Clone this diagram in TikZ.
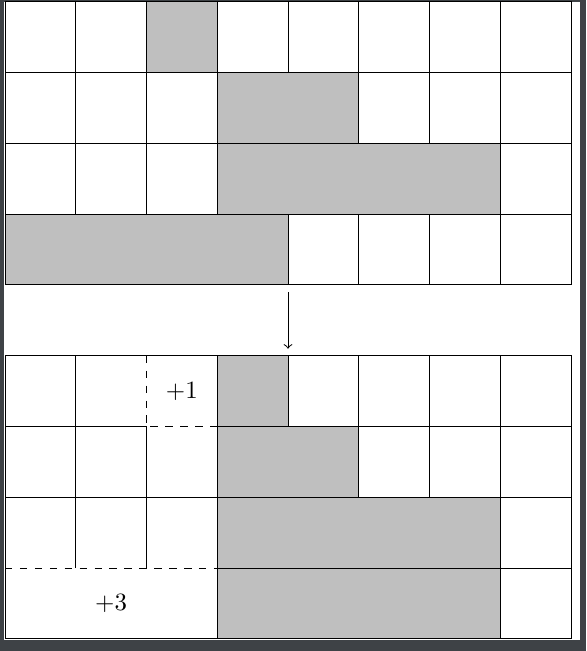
\documentclass[tikz,border=0pt]{standalone}
\definecolor{frame}{RGB}{62,66,70}
\begin{document}
\begin{tikzpicture}[
        cell/.style={draw},
        block/.style={draw, fill=lightgray},
        gap/.style={draw, dashed}]
        % screenshot frame and page
        \fill[frame] (-0.0707,-0.173) rectangle (8.212,9.028);
        \fill[white] (-0.01,-0.02) rectangle (8.12,9);
        \useasboundingbox (-0.0707,-0.173) rectangle (8.212,9.028);

        % top grid
        \foreach \x in {0,1,3,4,5,6,7} \draw[cell] (\x,8) rectangle ++(1,1);
        \foreach \x in {0,1,2,5,6,7} \draw[cell] (\x,7) rectangle ++(1,1);
        \foreach \x in {0,1,2,7} \draw[cell] (\x,6) rectangle ++(1,1);
        \foreach \x in {4,5,6,7} \draw[cell] (\x,5) rectangle ++(1,1);
        \draw[block] (2,8) rectangle (3,9);
        \draw[block] (3,7) rectangle (5,8);
        \draw[block] (3,6) rectangle (7,7);
        \draw[block] (0,5) rectangle (4,6);

        \coordinate (upper) at (4,5);
        \coordinate (lower) at (4,4);
        \draw[->, shorten <=0.1cm, shorten >=0.1cm] (upper) -- (lower);

        % bottom grid
        \draw[cell] (0,0) rectangle (8,4);
        \foreach \x in {4,5,6,7} \draw[cell] (\x,3) rectangle ++(1,1);
        \draw (1,3) -- (1,4);
        \draw (0,3) -- (2,3);
        \foreach \x in {0,1,5,6,7} \draw[cell] (\x,2) rectangle ++(1,1);
        \draw (2,2) -- (3,2);
        \draw (1,1) -- (1,2);
        \draw (2,1) -- (2,3);
        \draw[cell] (7,1) rectangle ++(1,1);
        \draw[cell] (7,0) rectangle ++(1,1);
        \draw[block] (3,3) rectangle (4,4);
        \draw[block] (3,2) rectangle (5,3);
        \draw[block] (3,1) rectangle (7,2);
        \draw[block] (3,0) rectangle (7,1);
        \draw[gap] (2,4) -- (2,3) -- (3,3) -- (3,4);
        \draw[gap] (0,1) -- (3,1) -- (3,0);

        \node (plusone) at (2.5,3.5) {$+1$};
        \node (plusthree) at (1.5,0.5) {$+3$};
    \end{tikzpicture}
\end{document}
